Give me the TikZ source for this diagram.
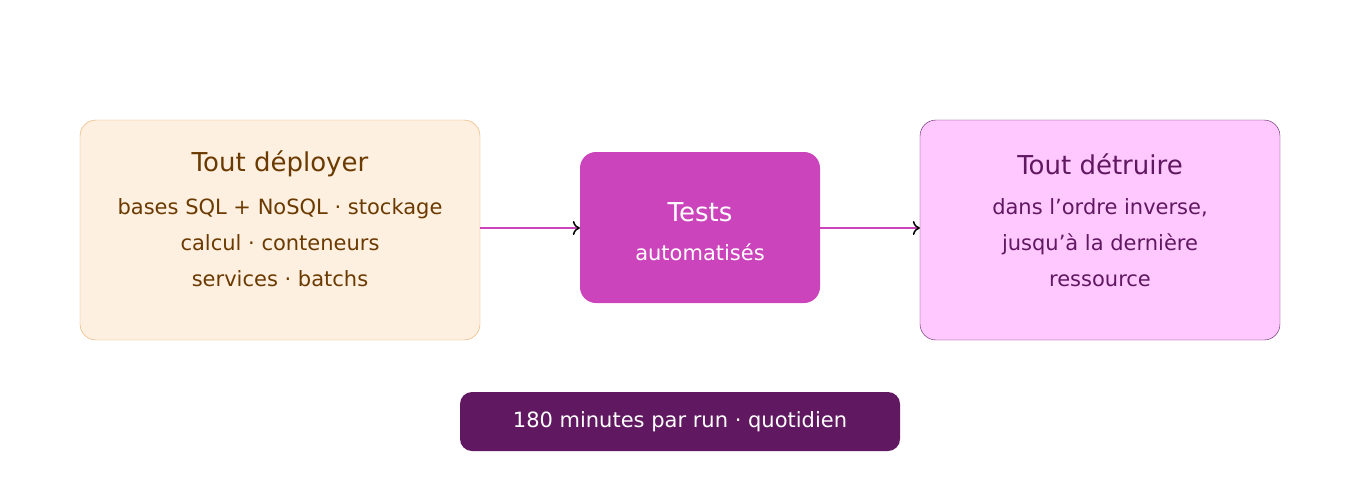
\documentclass[tikz,border=0pt]{standalone}
\usepackage{fontspec}
\setmainfont{DejaVu Sans}
\usetikzlibrary{arrows.meta}
\definecolor{lfill}{HTML}{FEF0E0}
\definecolor{ldraw}{HTML}{E8A860}
\definecolor{ltext}{HTML}{6B3A00}
\definecolor{mfill}{HTML}{CC44BB}
\definecolor{rfill}{HTML}{FFC8FF}
\definecolor{rdark}{HTML}{601860}
\begin{document}
\begin{tikzpicture}[x=1pt,y=-1pt,
  box/.style={rounded corners=16pt,align=center,inner sep=0pt},
  arr/.style={draw=mfill,line width=2pt,-{To[black,length=7pt,width=14pt,line width=1.5pt]}},
  title/.style={font=\fontsize{26}{30}\selectfont},
  body/.style={font=\fontsize{21}{36}\selectfont}]
\useasboundingbox (0,0) rectangle (1360,480);
\node[box,draw=ldraw,fill=lfill,minimum width=400pt,minimum height=220pt] (L) at (280,230) {};
\node[title,text=ltext] (Lt) at (280,164) {Tout déployer};
\node[body,text=ltext,align=center] (Lb) at (280,243) {bases SQL + NoSQL · stockage\\calcul · conteneurs\\services · batchs};
\node[box,fill=mfill,minimum width=240pt,minimum height=151pt] (M) at (700,227.5) {};
\node[title,text=white] (Mt) at (700,212) {Tests};
\node[body,text=white] (Mb) at (700,252) {automatisés};
\node[box,draw=rdark,fill=rfill,minimum width=360pt,minimum height=220pt] (R) at (1100,230) {};
\node[title,text=rdark] (Rt) at (1100,164) {Tout détruire};
\node[body,text=rdark,align=center] (Rb) at (1100,243) {dans l'ordre inverse,\\jusqu'à la dernière\\ressource};
\node[box,rounded corners=12pt,fill=rdark,minimum width=440pt,minimum height=59pt,text=white,font=\fontsize{21}{25}\selectfont] (B) at (680,421.5) {180 minutes par run · quotidien};
\draw[arr] (L.east |- 0,228) -- (M.west |- 0,228);
\draw[arr] (M.east |- 0,228) -- (R.west |- 0,228);
\end{tikzpicture}
\end{document}
